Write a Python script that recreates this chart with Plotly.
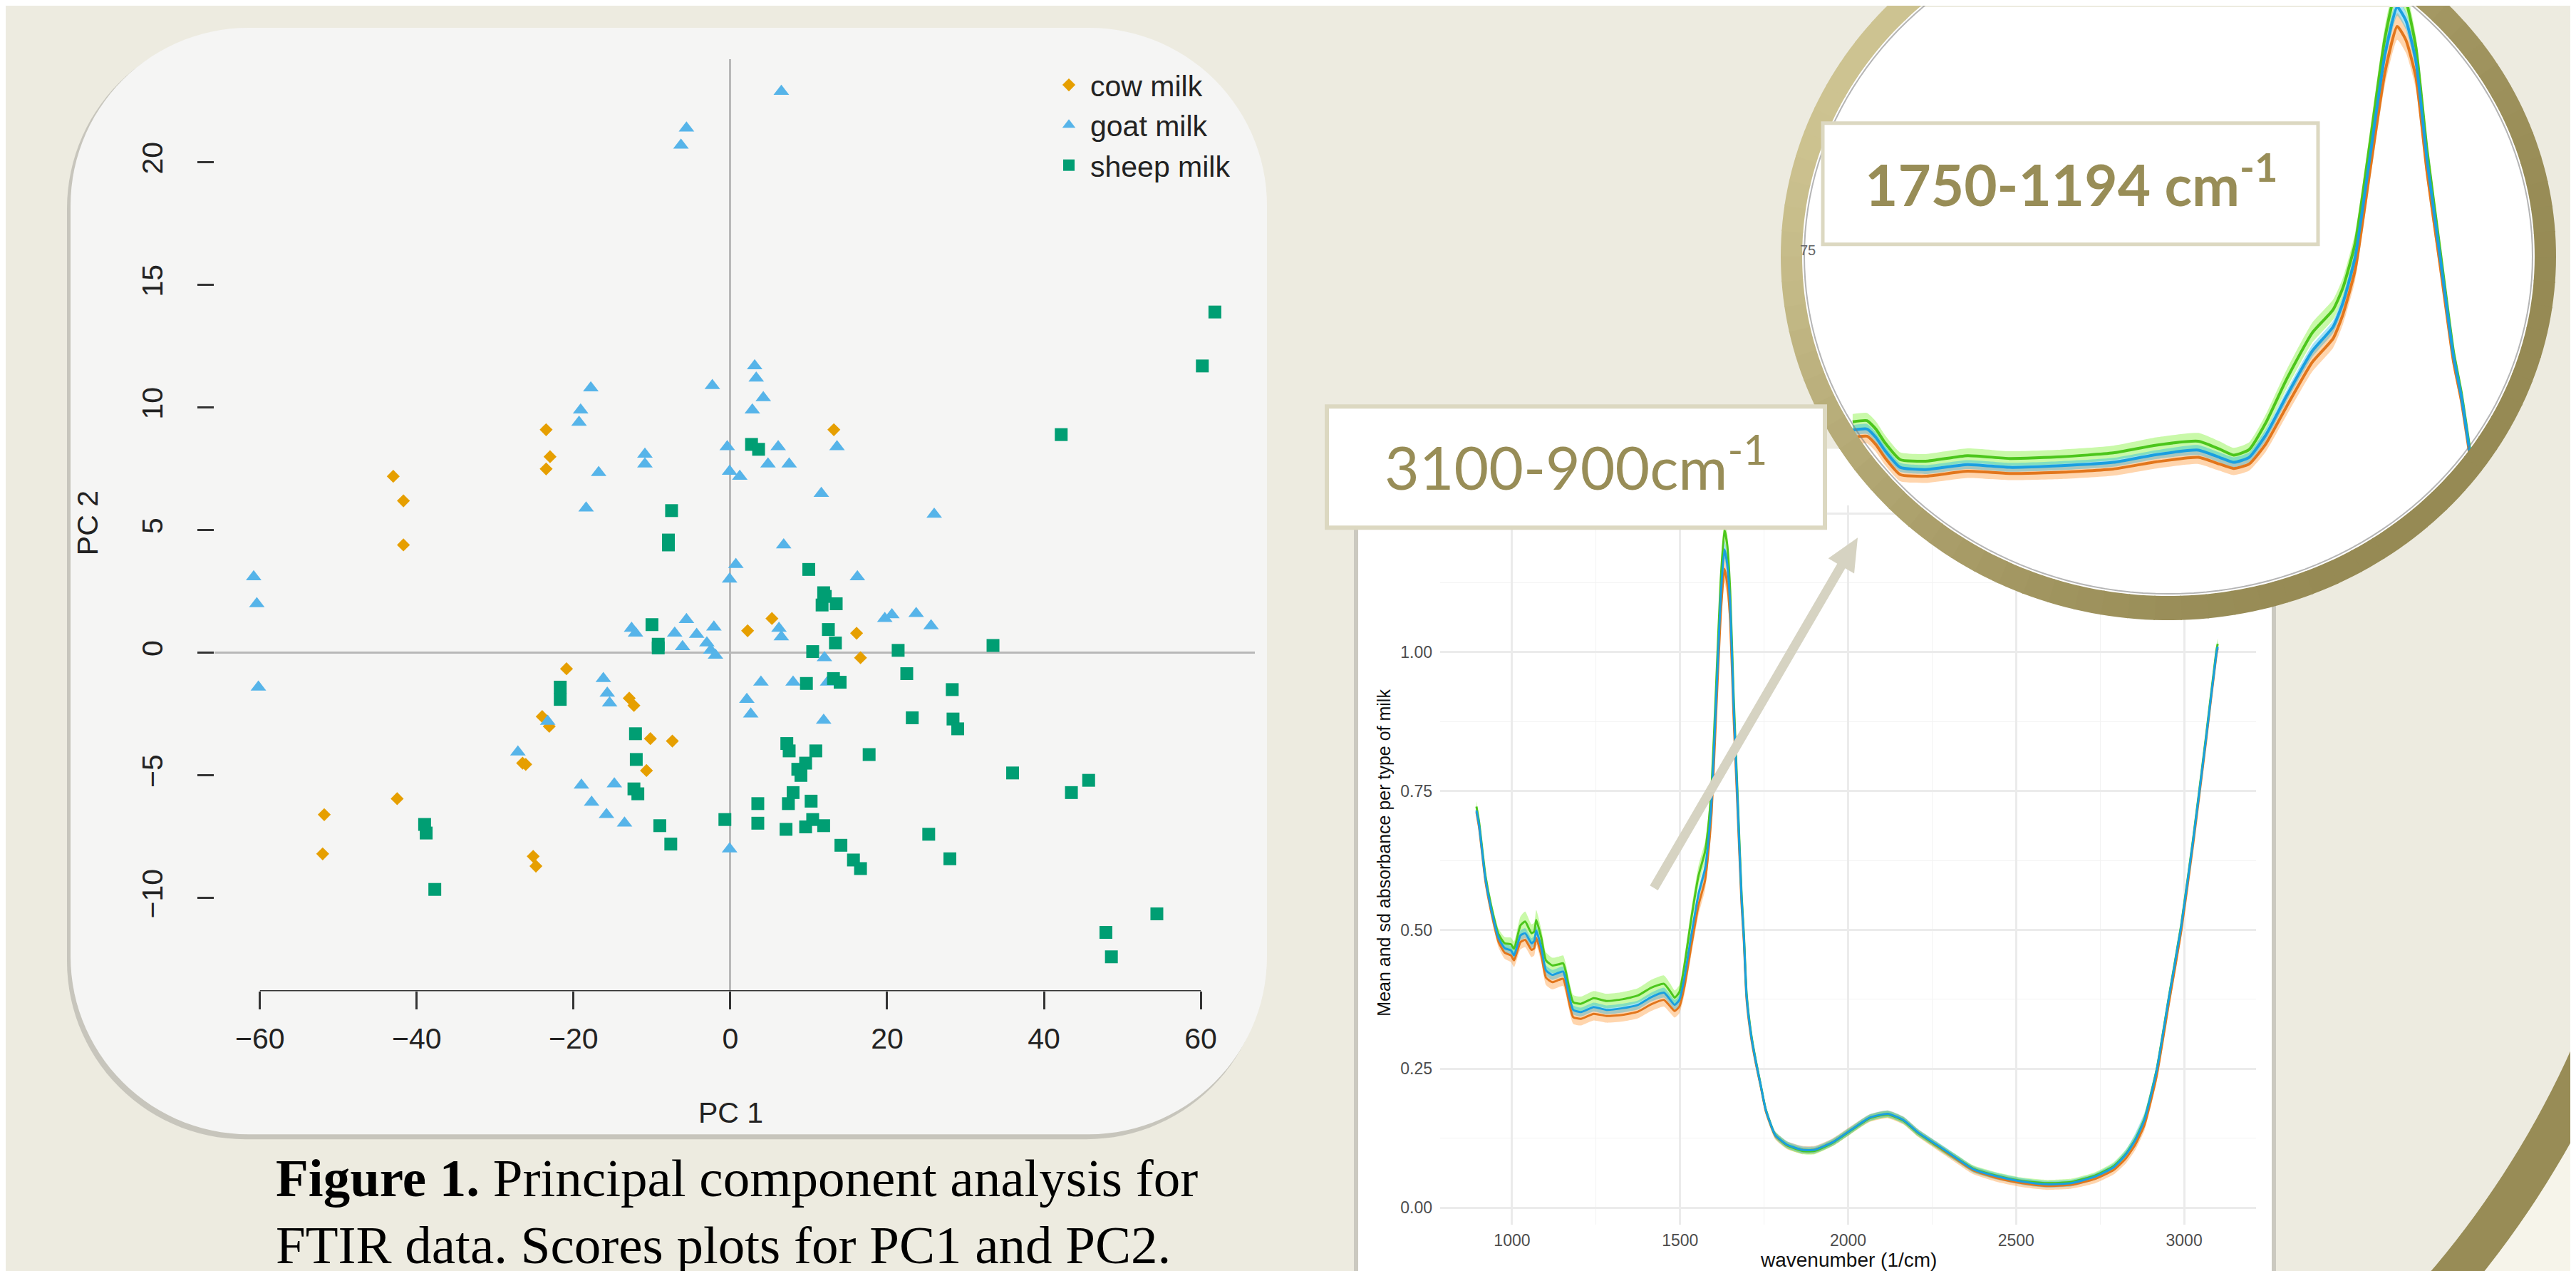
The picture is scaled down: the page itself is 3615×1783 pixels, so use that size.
import math
import plotly.graph_objects as go

W, H = 3615, 1783

# ---------------- PCA scores (PC1, PC2) ----------------
cow_pc1 = [-23.5, -23.0, -23.5, -43.0, -41.7, -41.7, 13.2, 5.3, 2.2, 16.1, 16.6, -20.9, -24.0, -23.1,
           -12.9, -12.3, -10.2, -7.4, -10.7, -26.5, -26.1, -42.5, -51.8, -52.0, -25.15, -24.8]
cow_pc2 = [9.1, 8.0, 7.5, 7.2, 6.2, 4.4, 9.1, 1.4, 0.9, 0.8, -0.2, -0.65, -2.6, -3.0,
           -1.85, -2.15, -3.5, -3.6, -4.8, -4.5, -4.55, -5.95, -6.6, -8.2, -8.3, -8.7]

goat_pc1 = [6.5, -5.6, -6.3, 3.1, 3.3, -2.3, 4.2, 2.8, -17.8, -19.1, -19.3, -10.9, -10.9, -16.8, -18.4,
            -0.4, 6.1, 4.8, 7.5, -0.1, 1.2, 13.6, 11.6, 26.0, 6.8, 0.7, -0.1, 16.2, 19.7, 20.6,
            23.7, 25.6, -60.8, -60.4, -60.2, -12.6, -12.1, -5.6, -7.1, -4.3, -3.0, -6.1, -2.1, -2.5, -1.9,
            6.2, 6.5, 12.0, 12.4, 3.9, 8.0, -16.2, -15.7, -15.4, 2.1, 2.6, 11.9, -23.3, -27.1, -19.0,
            -17.7, -14.8, -15.8, -13.5, -0.1]
goat_pc2 = [22.9, 21.4, 20.7, 11.7, 11.2, 10.9, 10.4, 9.9, 10.8, 9.9, 9.4, 8.1, 7.7, 7.35, 5.9,
            8.4, 8.4, 7.7, 7.7, 7.4, 7.2, 8.4, 6.5, 5.65, 4.4, 3.6, 3.0, 3.1, 1.4, 1.55,
            1.6, 1.1, 3.1, 2.0, -1.4, 1.0, 0.8, 1.35, 0.8, 0.75, 0.4, 0.25, 1.05, 0.1, -0.1,
            1.0, 0.65, -0.2, -1.2, -1.2, -1.2, -1.05, -1.65, -2.05, -1.9, -2.5, -2.75, -2.8, -4.05, -5.4,
            -6.1, -5.35, -6.6, -6.95, -8.0]

sheep_pc1 = [61.8, 60.2, 42.2, 2.7, 3.6, -7.5, -7.9, -7.9, 10.0, 11.9, 11.7, 13.5, 12.1, -10.0, -9.2,
             -9.2, 12.5, 13.4, 10.5, 21.4, 33.5, 22.5, 9.7, 13.15, 14.0, 28.3, -21.7, -21.7, 23.2, 28.4,
             29.0, -12.1, -12.0, 7.2, 7.5, 10.9, 9.6, 9.0, 17.7, 36.0, 45.7, 43.5, -12.3, -11.8, 8.0,
             7.4, 10.3, 3.5, -0.7, 3.5, 7.1, 9.6, 10.5, 11.9, -9.0, -7.6, 14.1, 15.7, 16.6, 25.3,
             28.0, -39.0, -38.8, -37.7, 47.9, 54.4, 48.6, 8.6]
sheep_pc2 = [13.9, 11.7, 8.9, 8.5, 8.3, 5.8, 4.6, 4.4, 3.4, 2.45, 1.95, 2.0, 2.3, 1.15, 0.35,
             0.2, 0.95, 0.4, 0.05, 0.1, 0.3, -0.85, -1.25, -1.05, -1.2, -1.5, -1.4, -1.9, -2.65, -2.7,
             -3.1, -3.3, -4.35, -3.7, -4.0, -4.0, -4.5, -5.0, -4.15, -4.9, -5.2, -5.7, -5.55, -5.75, -5.7,
             -6.15, -6.05, -6.15, -6.8, -6.95, -7.2, -7.1, -6.8, -7.05, -7.05, -7.8, -7.85, -8.45, -8.8, -7.4,
             -8.4, -7.0, -7.35, -9.65, -11.4, -10.65, -12.4, -4.75]

pca_xticks = [-60, -40, -20, 0, 20, 40, 60]
pca_yticks = [-10, -5, 0, 5, 10, 15, 20]

# ---------------- FTIR spectra: mean and sd per milk type ----------------
wavenumber = [894, 902, 921, 941, 960, 978, 997, 1006, 1025, 1039, 1058, 1066, 1072, 1087, 1101, 1120,
              1139, 1152, 1160, 1168, 1182, 1205, 1243, 1281, 1328, 1375, 1414, 1452, 1471, 1484, 1498,
              1513, 1532, 1555, 1574, 1583, 1594, 1607, 1621, 1632, 1640, 1649, 1659, 1671, 1683, 1690,
              1698, 1712, 1725, 1740, 1755, 1783, 1819, 1864, 1900, 1955, 2009, 2064, 2118, 2164, 2209,
              2264, 2318, 2373, 2445, 2518, 2591, 2664, 2736, 2791, 2827, 2855, 2882, 2918, 2955, 2991,
              3027, 3064, 3096, 3100]

mean_sheep = [0.715, 0.688, 0.591, 0.529, 0.485, 0.467, 0.463, 0.454, 0.490, 0.494, 0.476, 0.480, 0.499,
              0.468, 0.427, 0.419, 0.423, 0.425, 0.410, 0.387, 0.356, 0.352, 0.361, 0.356, 0.359, 0.365,
              0.379, 0.387, 0.374, 0.365, 0.374, 0.414, 0.485, 0.565, 0.609, 0.653, 0.735, 0.910, 1.100,
              1.185, 1.160, 1.087, 0.910, 0.733, 0.556, 0.485, 0.380, 0.308, 0.264, 0.220, 0.176, 0.131,
              0.113, 0.104, 0.104, 0.118, 0.140, 0.162, 0.169, 0.158, 0.135, 0.113, 0.091, 0.069, 0.056,
              0.047, 0.042, 0.044, 0.056, 0.073, 0.096, 0.122, 0.158, 0.246, 0.379, 0.505, 0.662, 0.839,
              0.998, 1.010]
mean_goat = [0.722, 0.694, 0.597, 0.535, 0.492, 0.476, 0.474, 0.466, 0.508, 0.515, 0.494, 0.497, 0.518,
             0.486, 0.445, 0.436, 0.438, 0.440, 0.425, 0.401, 0.370, 0.367, 0.377, 0.372, 0.375, 0.382,
             0.396, 0.403, 0.389, 0.378, 0.388, 0.436, 0.515, 0.598, 0.640, 0.680, 0.760, 0.935, 1.130,
             1.220, 1.195, 1.112, 0.928, 0.745, 0.564, 0.491, 0.385, 0.311, 0.266, 0.221, 0.177, 0.131,
             0.112, 0.102, 0.102, 0.117, 0.139, 0.161, 0.168, 0.157, 0.134, 0.112, 0.091, 0.070, 0.057,
             0.048, 0.044, 0.046, 0.058, 0.075, 0.097, 0.123, 0.160, 0.248, 0.381, 0.508, 0.665, 0.843,
             1.003, 1.015]
mean_cow = [0.712, 0.684, 0.587, 0.524, 0.478, 0.459, 0.454, 0.445, 0.478, 0.482, 0.464, 0.467, 0.486,
            0.455, 0.414, 0.406, 0.410, 0.412, 0.397, 0.374, 0.343, 0.340, 0.349, 0.345, 0.347, 0.353,
            0.366, 0.374, 0.362, 0.354, 0.362, 0.398, 0.466, 0.545, 0.588, 0.632, 0.712, 0.885, 1.068,
            1.150, 1.125, 1.058, 0.888, 0.718, 0.546, 0.477, 0.374, 0.304, 0.261, 0.218, 0.174, 0.130,
            0.112, 0.104, 0.104, 0.118, 0.140, 0.161, 0.168, 0.157, 0.134, 0.111, 0.089, 0.067, 0.053,
            0.044, 0.039, 0.041, 0.052, 0.068, 0.089, 0.114, 0.149, 0.236, 0.369, 0.496, 0.655, 0.834,
            0.995, 1.007]

sd_sheep = [0.008, 0.008, 0.008, 0.008, 0.008, 0.008, 0.008, 0.008, 0.009, 0.009, 0.009, 0.009, 0.009,
            0.009, 0.009, 0.009, 0.009, 0.009, 0.009, 0.009, 0.008, 0.008, 0.008, 0.008, 0.008, 0.008,
            0.008, 0.009, 0.009, 0.009, 0.009, 0.010, 0.010, 0.011, 0.011, 0.012, 0.013, 0.014, 0.015,
            0.016, 0.016, 0.015, 0.013, 0.012, 0.011, 0.010, 0.010, 0.009, 0.012, 0.008, 0.007, 0.006,
            0.006, 0.006, 0.006, 0.006, 0.006, 0.006, 0.006, 0.006, 0.006, 0.006, 0.006, 0.006, 0.006,
            0.006, 0.006, 0.006, 0.006, 0.007, 0.008, 0.012, 0.013, 0.010, 0.008, 0.008, 0.008, 0.008,
            0.009, 0.009]
sd_goat = [0.010, 0.010, 0.010, 0.010, 0.010, 0.011, 0.012, 0.013, 0.016, 0.018, 0.016, 0.016, 0.018,
           0.016, 0.015, 0.014, 0.014, 0.014, 0.014, 0.014, 0.013, 0.013, 0.013, 0.013, 0.013, 0.013,
           0.014, 0.015, 0.014, 0.013, 0.013, 0.015, 0.017, 0.018, 0.018, 0.018, 0.019, 0.020, 0.021,
           0.022, 0.021, 0.020, 0.017, 0.014, 0.012, 0.011, 0.010, 0.009, 0.008, 0.007, 0.007, 0.006,
           0.006, 0.006, 0.006, 0.006, 0.006, 0.006, 0.006, 0.006, 0.006, 0.006, 0.006, 0.006, 0.006,
           0.006, 0.006, 0.006, 0.006, 0.007, 0.008, 0.008, 0.008, 0.008, 0.008, 0.008, 0.008, 0.008,
           0.010, 0.010]
sd_cow = [0.010, 0.010, 0.010, 0.010, 0.010, 0.011, 0.012, 0.012, 0.013, 0.013, 0.013, 0.013, 0.013,
          0.013, 0.013, 0.013, 0.013, 0.013, 0.013, 0.013, 0.012, 0.012, 0.012, 0.012, 0.012, 0.012,
          0.012, 0.012, 0.012, 0.012, 0.012, 0.014, 0.016, 0.017, 0.017, 0.018, 0.019, 0.020, 0.022,
          0.024, 0.023, 0.021, 0.018, 0.015, 0.012, 0.011, 0.010, 0.009, 0.008, 0.007, 0.007, 0.007,
          0.007, 0.007, 0.007, 0.007, 0.007, 0.007, 0.007, 0.007, 0.007, 0.007, 0.007, 0.007, 0.007,
          0.007, 0.007, 0.007, 0.008, 0.008, 0.009, 0.010, 0.010, 0.010, 0.010, 0.010, 0.009, 0.009,
          0.009, 0.009]

spec_xticks = [1000, 1500, 2000, 2500, 3000]
spec_yticks = [0.0, 0.25, 0.5, 0.75, 1.0, 1.25]
spec_yticklabels = ['0.00', '0.25', '0.50', '0.75', '1.00', '1.25']

# ---------------- styling ----------------
BEIGE = '#EDEBE0'
PANEL = '#F5F5F4'
OLIVE_TXT = '#988D57'
BOX_LINE = '#DCD8C1'
PT_COL = {'cow': '#E69F00', 'goat': '#56B4E9', 'sheep': '#009E73'}
LINE_COL = {'cow': '#E2761C', 'goat': '#4CC61C', 'sheep': '#1A9FE0'}
RIB_COL = {'cow': 'rgba(255,150,50,0.40)', 'goat': 'rgba(120,240,40,0.40)', 'sheep': 'rgba(0,175,230,0.35)'}


def X(p):
    return p / W


def Y(q):
    return 1 - q / H


def ppath(pts):
    return 'M ' + ' L '.join(f'{X(a):.5f},{Y(b):.5f}' for a, b in pts) + ' Z'


def rrect_pts(x0, y0, x1, y1, r, n=30):
    pts = []
    for cx, cy, a0, a1 in [(x1 - r, y0 + r, -90, 0), (x1 - r, y1 - r, 0, 90),
                           (x0 + r, y1 - r, 90, 180), (x0 + r, y0 + r, 180, 270)]:
        for k in range(n + 1):
            a = math.radians(a0 + (a1 - a0) * k / n)
            pts.append((cx + r * math.cos(a), cy + r * math.sin(a)))
    return pts


fig = go.Figure()

# ---- PCA scores ----
fig.add_trace(go.Scatter(x=cow_pc1, y=cow_pc2, mode='markers', name='cow milk',
                         marker=dict(symbol='diamond', size=14, color=PT_COL['cow']),
                         xaxis='x', yaxis='y'))
fig.add_trace(go.Scatter(x=goat_pc1, y=goat_pc2, mode='markers', name='goat milk',
                         marker=dict(symbol='triangle-up', size=19, color=PT_COL['goat']),
                         xaxis='x', yaxis='y'))
fig.add_trace(go.Scatter(x=sheep_pc1, y=sheep_pc2, mode='markers', name='sheep milk',
                         marker=dict(symbol='square', size=18, color=PT_COL['sheep']),
                         xaxis='x', yaxis='y'))

# ---- Spectra (main) and magnified inset ----
groups = [('cow', mean_cow, sd_cow), ('goat', mean_goat, sd_goat), ('sheep', mean_sheep, sd_sheep)]
inset_idx = [i for i, w in enumerate(wavenumber) if 1135 <= w <= 1700]


def add_spectra(xa, ya, idx, lw):
    wx = [wavenumber[i] for i in idx]
    for g, m, s in groups:
        up = [m[i] + s[i] for i in idx]
        lo = [m[i] - s[i] for i in idx]
        fig.add_trace(go.Scatter(x=wx, y=up, mode='lines', line=dict(width=0, shape='spline', smoothing=0.5),
                                 showlegend=False, hoverinfo='skip', xaxis=xa, yaxis=ya))
        fig.add_trace(go.Scatter(x=wx, y=lo, mode='lines', line=dict(width=0, shape='spline', smoothing=0.5),
                                 fill='tonexty', fillcolor=RIB_COL[g], showlegend=False, hoverinfo='skip',
                                 xaxis=xa, yaxis=ya))
    for g, m, s in groups:
        fig.add_trace(go.Scatter(x=wx, y=[m[i] for i in idx], mode='lines', name=g + ' milk',
                                 line=dict(color=LINE_COL[g], width=lw, shape='spline', smoothing=0.5),
                                 showlegend=False, xaxis=xa, yaxis=ya))


add_spectra('x2', 'y2', list(range(len(wavenumber))), 3)

# inset geometry (pixel -> inset data)
INS = dict(x0=2491, x1=3579, y0=0, y1=861)


def wn_at(p):
    return 1481 + (p - 3122) / 1.55


def val_at(q):
    return (924 - q) / 780


add_spectra('x3', 'y3', inset_idx, 4)

# ---------------- shapes ----------------
shapes = []
# PCA panel shadow + panel
shapes.append(dict(type='path', xref='paper', yref='paper', layer='below',
                   path=ppath(rrect_pts(86, 33, 1766, 1590, 250)), fillcolor='rgba(0,0,0,0.16)', line=dict(width=0)))
shapes.append(dict(type='path', xref='paper', yref='paper', layer='below',
                   path=ppath(rrect_pts(91, 29, 1770, 1583, 250)), fillcolor=PANEL, line=dict(width=0)))
# spectrum panel with edge shadows
shapes.append(dict(type='rect', xref='paper', yref='paper', layer='below', x0=X(1892), x1=X(3186),
                   y0=Y(1790), y1=Y(620), fillcolor='rgba(0,0,0,0.14)', line=dict(width=0)))
shapes.append(dict(type='rect', xref='paper', yref='paper', layer='below', x0=X(1898), x1=X(3180),
                   y0=Y(1790), y1=Y(620), fillcolor='white', line=dict(width=0)))

# magnifier circle interior (drawn in the inset subplot so it covers the main grid)
CX, CY = 3035, 350
AO, BO, AI, BI = 544, 511, 514, 477
n_e = 180
inner = [(CX + AI * math.cos(2 * math.pi * k / n_e), CY + BI * math.sin(2 * math.pi * k / n_e)) for k in range(n_e)]
shapes.append(dict(type='path', xref='x3', yref='y3', layer='below',
                   path='M ' + ' L '.join(f'{wn_at(a):.3f},{val_at(b):.5f}' for a, b in inner) + ' Z',
                   fillcolor='white', line=dict(width=0)))

# ring (two-tone shading)
light = (206, 196, 146)
dark = (150, 138, 84)
nseg = 90
for k in range(nseg):
    t0 = 2 * math.pi * k / nseg
    t1 = 2 * math.pi * (k + 1.05) / nseg
    pts = []
    for j in range(4):
        t = t0 + (t1 - t0) * j / 3
        pts.append((CX + AO * math.cos(t), CY + BO * math.sin(t)))
    for j in range(4):
        t = t1 - (t1 - t0) * j / 3
        pts.append((CX + AI * math.cos(t), CY + BI * math.sin(t)))
    tm = (t0 + t1) / 2
    f = ((1 + math.cos(tm - math.radians(215))) / 2) ** 1.6
    col = tuple(int(dark[c] + (light[c] - dark[c]) * f) for c in range(3))
    shapes.append(dict(type='path', xref='paper', yref='paper', layer='above', path=ppath(pts),
                       fillcolor=f'rgb{col}', line=dict(width=0)))
inner_line = [(CX + (AI - 3) * math.cos(2 * math.pi * k / n_e), CY + (BI - 3) * math.sin(2 * math.pi * k / n_e))
              for k in range(n_e)]
shapes.append(dict(type='path', xref='paper', yref='paper', layer='above', path=ppath(inner_line),
                   fillcolor='rgba(0,0,0,0)', line=dict(color='rgba(120,120,120,0.55)', width=2)))

# big arc in the lower-right corner
BX, BY, RI, RO = 2414, 932, 1300, 1358
arc_o = [(BX + RO * math.cos(math.radians(a)), BY + RO * math.sin(math.radians(a))) for a in range(8, 61)]
arc_i = [(BX + RI * math.cos(math.radians(a)), BY + RI * math.sin(math.radians(a))) for a in range(60, 7, -1)]
shapes.append(dict(type='path', xref='paper', yref='paper', layer='above',
                   path=ppath(arc_o + [(3000, 2700), (4800, 2700), (4800, 1000)]),
                   fillcolor='#F6F4EA', line=dict(width=0)))
shapes.append(dict(type='path', xref='paper', yref='paper', layer='above', path=ppath(arc_o + arc_i),
                   fillcolor='rgb(152,140,86)', line=dict(width=0)))

# label boxes
shapes.append(dict(type='rect', xref='paper', yref='paper', layer='above', x0=X(1854), x1=X(2553),
                   y0=Y(731), y1=Y(561), fillcolor='white', line=dict(color=BOX_LINE, width=6)))
shapes.append(dict(type='rect', xref='paper', yref='paper', layer='above', x0=X(2550), x1=X(3245),
                   y0=Y(333), y1=Y(163), fillcolor='white', line=dict(color=BOX_LINE, width=5)))

# arrow
tx, ty, hx, hy = 2313, 1237, 2599, 745
L = math.hypot(hx - tx, hy - ty)
ux, uy = (hx - tx) / L, (hy - ty) / L
nx, ny = -uy, ux
hw, hl, hh = 6.5, 46, 21
bx, by = hx - ux * hl, hy - uy * hl
arrow = [(tx + nx * hw, ty + ny * hw), (bx + nx * hw, by + ny * hw), (bx + nx * hh, by + ny * hh), (hx, hy),
         (bx - nx * hh, by - ny * hh), (bx - nx * hw, by - ny * hw), (tx - nx * hw, ty - ny * hw)]
shapes.append(dict(type='path', xref='paper', yref='paper', layer='above', path=ppath(arrow),
                   fillcolor='#D6D3C2', line=dict(width=0)))

# PCA x-axis line (R style, spanning the tick range)
shapes.append(dict(type='line', xref='x', yref='y', x0=pca_xticks[0], x1=pca_xticks[-1], y0=-13.8, y1=-13.8,
                   line=dict(color='#333333', width=3)))

# ---------------- annotations ----------------
ann = []
SANS = 'Liberation Sans, Arial, sans-serif'


def note(text, xp, yp, size, color, family=SANS, angle=0, xanchor='center'):
    ann.append(dict(text=text, x=X(xp), y=Y(yp), xref='paper', yref='paper', showarrow=False,
                    xanchor=xanchor, yanchor='middle', textangle=angle,
                    font=dict(family=family, size=size, color=color)))


note('PC 1', 1017, 1553, 41, '#222')
note('PC 2', 115, 724, 41, '#222', angle=-90)
note('wavenumber (1/cm)', 2586, 1759, 28, '#111')
note('Mean and sd absorbance per type of milk', 1934, 1188, 25, '#111', angle=-90)
SERIF = 'Liberation Serif, Times New Roman, serif'
note('<b>Figure 1.</b> Principal component analysis for', 377, 1644, 75, 'black', family=SERIF, xanchor='left')
note('FTIR data. Scores plots for PC1 and PC2.', 377, 1738, 75, 'black', family=SERIF, xanchor='left')
LATO = 'Lato, Open Sans, sans-serif'
note('3100-900cm<sup>-1</sup>', 2203, 640, 84, OLIVE_TXT, family=LATO)
note('<b>1750-1194 cm<sup>-1</sup></b>', 2898, 243, 80, OLIVE_TXT, family=LATO)
note('75', 2529, 341, 20, '#666')

fig.update_layout(
    width=W, height=H, margin=dict(l=0, r=0, t=0, b=0),
    paper_bgcolor=BEIGE, plot_bgcolor='rgba(0,0,0,0)',
    shapes=shapes, annotations=ann, hovermode=False,
    legend=dict(x=X(1462), y=Y(76), xanchor='left', yanchor='top', bgcolor='rgba(0,0,0,0)',
                traceorder='normal', itemwidth=50,
                font=dict(family=SANS, size=41, color='#222'), tracegroupgap=0, itemsizing='trace'),
    xaxis=dict(domain=[X(293), X(1753)], range=[-65.8, 66.9], anchor='y', tickvals=pca_xticks,
               ticks='outside', ticklen=25, tickwidth=3, tickcolor='#333', showgrid=False, showline=False,
               zeroline=True, zerolinecolor='#B8B8B8', zerolinewidth=3,
               tickfont=dict(family=SANS, size=41, color='#222'), ticklabelstandoff=5),
    yaxis=dict(domain=[Y(1382), Y(73.5)], range=[-13.8, 24.2], anchor='x', tickvals=pca_yticks,
               ticks='outside', ticklen=23, tickwidth=3, tickcolor='#333', showgrid=False, showline=False,
               zeroline=True, zerolinecolor='#B8B8B8', zerolinewidth=3, tickangle=-90,
               tickfont=dict(family=SANS, size=41, color='#222'), ticklabelstandoff=33),
    xaxis2=dict(domain=[X(2013), X(3158)], range=[786, 3214], anchor='y2', tickvals=spec_xticks,
                ticks='', showline=False, zeroline=False, showgrid=True, gridcolor='#EBEBEB', gridwidth=2.5,
                minor=dict(tickvals=[1250, 1750, 2250, 2750], showgrid=True, gridcolor='#F3F3F3', gridwidth=1.4),
                tickfont=dict(family=SANS, size=23, color='#4D4D4D'), ticklabelstandoff=6),
    yaxis2=dict(domain=[Y(1710), Y(700)], range=[-0.0308, 1.264], anchor='x2', tickvals=spec_yticks,
                ticktext=spec_yticklabels, ticks='', showline=False, zeroline=False, showgrid=True,
                gridcolor='#EBEBEB', gridwidth=2.5,
                minor=dict(tickvals=[0.125, 0.375, 0.625, 0.875, 1.125], showgrid=True, gridcolor='#F3F3F3',
                           gridwidth=1.4),
                tickfont=dict(family=SANS, size=23, color='#4D4D4D'), ticklabelstandoff=10),
    xaxis3=dict(domain=[X(INS['x0']), X(INS['x1'])], range=[wn_at(INS['x0']), wn_at(INS['x1'])],
                anchor='y3', visible=False),
    yaxis3=dict(domain=[Y(INS['y1']), Y(INS['y0'])], range=[val_at(INS['y1']), val_at(INS['y0'])],
                anchor='x3', visible=False),
)

fig.write_html('out.html')
